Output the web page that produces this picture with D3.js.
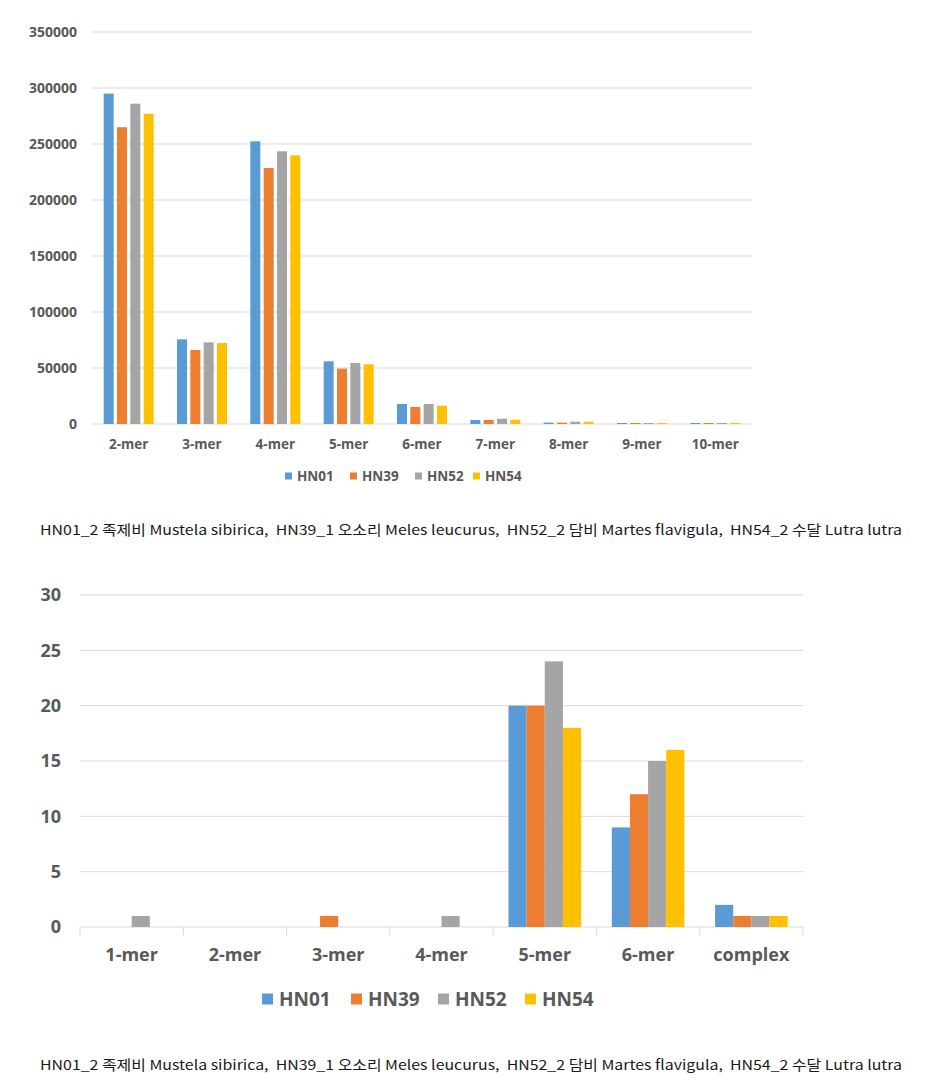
<!DOCTYPE html>
<html>
<head>
<meta charset="utf-8">
<script src="https://cdn.jsdelivr.net/npm/d3@7"></script>
<style>
  html, body { margin: 0; padding: 0; background: #ffffff; }
  svg { display: block; }
  .lbl { font-family: "Open Sans", "Noto Sans", sans-serif; font-weight: 700; fill: #595959; }
  .cap { font-family: "Noto Sans CJK KR", "Noto Sans", sans-serif; fill: #1a1a1a; white-space: pre; }
</style>
</head>
<body>
<svg id="chart" width="926" height="1091"></svg>
<script>
// ---------- data ----------
const seriesNames = ["HN01", "HN39", "HN52", "HN54"];
const seriesColors = ["#5B9BD5", "#ED7D31", "#A5A5A5", "#FFC000"];

// Top chart: SSR counts by repeat-unit length
const topCategories = ["2-mer", "3-mer", "4-mer", "5-mer", "6-mer", "7-mer", "8-mer", "9-mer", "10-mer"];
const topHN01 = [295000, 75600, 252400, 56000, 17900, 3600, 1200, 900, 900];
const topHN39 = [265000, 66100, 228600, 49400, 15200, 3600, 1200, 900, 900];
const topHN52 = [286000, 72900, 243500, 54500, 17900, 4700, 2000, 900, 900];
const topHN54 = [277000, 72300, 239900, 53300, 16300, 3800, 2000, 900, 900];
const topTicks = [0, 50000, 100000, 150000, 200000, 250000, 300000, 350000];

// Bottom chart
const botCategories = ["1-mer", "2-mer", "3-mer", "4-mer", "5-mer", "6-mer", "complex"];
const botHN01 = [0, 0, 0, 0, 20, 9, 2];
const botHN39 = [0, 0, 1, 0, 20, 12, 1];
const botHN52 = [1, 0, 0, 1, 24, 15, 1];
const botHN54 = [0, 0, 0, 0, 18, 16, 1];
const botTicks = [0, 5, 10, 15, 20, 25, 30];

const captionText = "HN01_2 족제비 Mustela sibirica,  HN39_1 오소리 Meles leucurus,  HN52_2 담비 Martes flavigula,  HN54_2 수달 Lutra lutra";

// ---------- drawing ----------
const svg = d3.select("#chart");

function drawChart(cfg) {
  const g = svg.append("g");
  const x0 = d3.scaleBand().domain(cfg.categories).range([cfg.left, cfg.right]).padding(0);
  const y = d3.scaleLinear().domain([0, cfg.yMax]).range([cfg.bottom, cfg.top]);
  const bw = x0.bandwidth();
  const gw = cfg.groupFrac * bw;
  const x1 = d3.scaleBand().domain(cfg.series.map((s, i) => i))
    .range([(bw - gw) / 2, (bw + gw) / 2]).paddingInner(cfg.innerPad).paddingOuter(0);

  // gridlines
  g.append("g").selectAll("line").data(cfg.ticks).join("line")
    .attr("x1", cfg.left).attr("x2", cfg.right)
    .attr("y1", d => y(d)).attr("y2", d => y(d))
    .attr("stroke", "#d9d9d9").attr("stroke-width", 1);

  // y labels
  g.append("g").selectAll("text").data(cfg.ticks).join("text")
    .attr("class", "lbl")
    .attr("x", cfg.yLabelX).attr("y", d => y(d))
    .attr("dy", "0.35em").attr("text-anchor", "end")
    .attr("font-size", cfg.yFont)
    .text(d => d);

  // bars
  const rows = [];
  cfg.categories.forEach((c, ci) => {
    cfg.series.forEach((s, si) => rows.push({ c, si, v: s[ci] }));
  });
  g.append("g").selectAll("rect").data(rows.filter(d => d.v > 0)).join("rect")
    .attr("x", d => x0(d.c) + x1(d.si))
    .attr("width", x1.bandwidth())
    .attr("y", d => y(d.v))
    .attr("height", d => cfg.bottom - y(d.v))
    .attr("fill", d => seriesColors[d.si]);

  // x axis ticks (bottom chart)
  if (cfg.xTicks) {
    const b = cfg.categories.map(c => x0(c)).concat([cfg.right]);
    g.append("g").selectAll("line").data(b).join("line")
      .attr("x1", d => d).attr("x2", d => d)
      .attr("y1", cfg.bottom).attr("y2", cfg.bottom + 8)
      .attr("stroke", "#d9d9d9").attr("stroke-width", 1);
  }

  // category labels
  g.append("g").selectAll("text").data(cfg.categories).join("text")
    .attr("class", "lbl")
    .attr("x", d => x0(d) + bw / 2).attr("y", cfg.catY)
    .attr("dy", "0.35em").attr("text-anchor", "middle")
    .attr("font-size", cfg.xFont)
    .text(d => d);

  // legend
  const lg = g.append("g");
  seriesNames.forEach((n, i) => {
    lg.append("rect")
      .attr("x", cfg.legendX[i]).attr("y", cfg.legendY - cfg.sw / 2)
      .attr("width", cfg.sw).attr("height", cfg.sw)
      .attr("fill", seriesColors[i]);
    lg.append("text").attr("class", "lbl")
      .attr("x", cfg.legendX[i] + cfg.sw + cfg.legendGap).attr("y", cfg.legendY)
      .attr("dy", "0.35em").attr("font-size", cfg.legendFont)
      .text(n);
  });

  // caption
  g.append("text").attr("class", "cap")
    .attr("x", 40).attr("y", cfg.captionY).attr("dy", "0.35em")
    .attr("font-size", 13.5)
    .attr("textLength", 862).attr("lengthAdjust", "spacingAndGlyphs")
    .text(captionText);
}

drawChart({
  categories: topCategories,
  series: [topHN01, topHN39, topHN52, topHN54],
  ticks: topTicks, yMax: 350000,
  left: 92, right: 752, top: 32, bottom: 424,
  groupFrac: 50 / 73.33, innerPad: 0.25,
  yLabelX: 77, yFont: 14, xFont: 13.5, catY: 444,
  legendX: [285, 350, 415, 473], legendY: 476, sw: 7, legendGap: 5, legendFont: 13.5,
  xTicks: false, captionY: 530
});

drawChart({
  categories: botCategories,
  series: [botHN01, botHN39, botHN52, botHN54],
  ticks: botTicks, yMax: 30,
  left: 80, right: 803, top: 595, bottom: 927,
  groupFrac: 72.6 / 103.3, innerPad: 0,
  yLabelX: 61, yFont: 18, xFont: 18, catY: 955,
  legendX: [262, 351, 438, 525], legendY: 999, sw: 11, legendGap: 6, legendFont: 19,
  xTicks: true, captionY: 1065
});
</script>
</body>
</html>
